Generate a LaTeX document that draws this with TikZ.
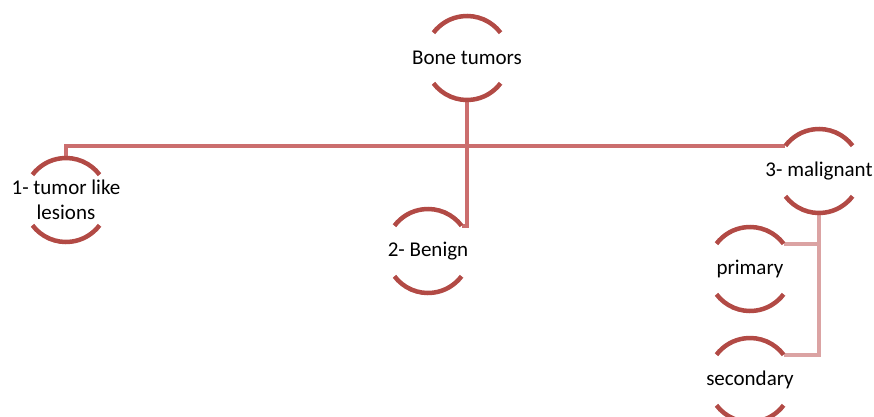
\documentclass[tikz,border=0pt]{standalone}
\usepackage{fontspec}
\setmainfont{Carlito}
\usepackage{tikz}
\definecolor{rim}{RGB}{178,74,69}
\definecolor{branch}{RGB}{203,110,110}
\definecolor{twig}{RGB}{219,163,163}

\tikzset{
  topic/.style={inner sep=0pt,align=center,font=\fontsize{21}{25}\selectfont},
  rimarc/.style={draw=rim,line width=4.5pt},
  branchline/.style={draw=branch,line width=4pt},
  twigline/.style={draw=twig,line width=4pt}
}

\begin{document}
\begin{tikzpicture}[x=1pt,y=1pt]
        \useasboundingbox (0,0) rectangle (874,416);
        % topics
        \node[topic] (bone) at (467,358) {Bone tumors};
        \node[topic] (lesion) at (66,216) {1- tumor like\\lesions};
        \node[topic] (benign) at (428,165) {2- Benign};
        \node[topic] (malig) at (819,245) {3- malignant};
        \node[topic] (prim) at (750,147) {primary};
        \node[topic] (second) at (750,36) {secondary};
        % connectors
        \draw[branchline] ([yshift=42pt]lesion.center) |- ([shift={(143:42pt)}]malig.center);
        \draw[branchline] ([yshift=-42pt]bone.center) |- ([shift={(37:42pt)}]benign.center);
        \draw[twigline] ([yshift=-42pt]malig.center) |- ([shift={(37:42pt)}]prim.center);
        \draw[twigline] ([yshift=-42pt]malig.center) |- ([shift={(37:42pt)}]second.center);
        % rims
        \foreach \n in {bone,lesion,benign,malig,prim,second}{
            \draw[rimarc] ([shift={(37:42pt)}]\n.center) arc[start angle=37,end angle=143,radius=42pt];
            \draw[rimarc] ([shift={(217:42pt)}]\n.center) arc[start angle=217,end angle=323,radius=42pt];
        }
    \end{tikzpicture}
\end{document}
